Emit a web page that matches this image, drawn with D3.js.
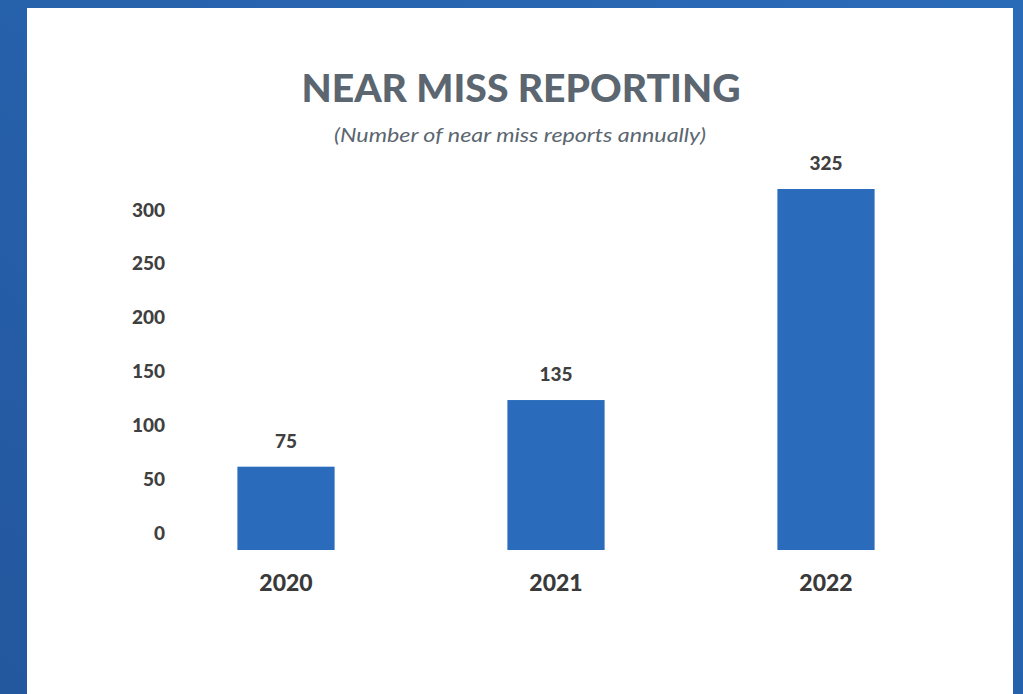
<!DOCTYPE html>
<html lang="en">
<head>
    <meta charset="UTF-8">
    <title>Near Miss Reporting</title>
    <script src="https://d3js.org/d3.v7.min.js"></script>
    <style>
        body { margin: 0; overflow: hidden; }
        text { font-family: Lato, "Open Sans", sans-serif; }
    </style>
</head>
<body>
    <svg id="chart" width="1023" height="694"></svg>

    <script>
        // Chart data
        const years = ["2020", "2021", "2022"];
        const reports = [75, 135, 325];
        const tickValues = [0, 50, 100, 150, 200, 250, 300];

        const width = 1023;
        const height = 694;

        const svg = d3.select("#chart");
        const defs = svg.append("defs");

        // blue backdrop
        const bg = defs.append("linearGradient")
            .attr("id", "bg")
            .attr("x1", "100%").attr("y1", "0%")
            .attr("x2", "0%").attr("y2", "100%");
        bg.append("stop").attr("offset", "0%").attr("stop-color", "#2a6bb8");
        bg.append("stop").attr("offset", "100%").attr("stop-color", "#23579e");

        svg.append("rect")
            .attr("width", width)
            .attr("height", height)
            .attr("fill", "url(#bg)");

        // white card
        svg.append("rect")
            .attr("x", 27)
            .attr("y", 8)
            .attr("width", 986)
            .attr("height", height)
            .attr("fill", "#ffffff");

        // title + subtitle
        svg.append("text")
            .attr("x", 521)
            .attr("y", 102)
            .attr("text-anchor", "middle")
            .attr("fill", "#5b6670")
            .attr("font-size", 37)
            .attr("font-weight", 900)
            .attr("textLength", 439)
            .attr("lengthAdjust", "spacingAndGlyphs")
            .text("NEAR MISS REPORTING");

        svg.append("text")
            .attr("x", 520)
            .attr("y", 142)
            .attr("text-anchor", "middle")
            .attr("fill", "#5b6670")
            .attr("font-size", 20)
            .attr("font-style", "italic")
            .attr("textLength", 372)
            .attr("lengthAdjust", "spacingAndGlyphs")
            .text("(Number of near miss reports annually)");

        // scales
        const x = d3.scaleBand()
            .domain(years)
            .range([151, 961])
            .paddingInner(0.64)
            .paddingOuter(0.32);

        const y = d3.scaleLinear()
            .domain([0, 325])
            .range([550, 189]);

        // tick labels sit a little above the bar baseline in the original
        const yAxisScale = d3.scaleLinear()
            .domain([0, 300])
            .range([533, 210]);

        const yAxis = d3.axisLeft(yAxisScale)
            .tickValues(tickValues)
            .tickSize(0)
            .tickPadding(0);

        svg.append("g")
            .attr("transform", "translate(165,0)")
            .call(yAxis)
            .call(g => g.select(".domain").remove())
            .call(g => g.selectAll("text")
                .attr("fill", "#404040")
                .attr("font-size", 19)
                .attr("font-weight", 900)
                .style("font-family", "Lato, 'Open Sans', sans-serif"));

        const xAxis = d3.axisBottom(x).tickSize(0).tickPadding(0);

        svg.append("g")
            .attr("transform", "translate(0,575)")
            .call(xAxis)
            .call(g => g.select(".domain").remove())
            .call(g => g.selectAll("text")
                .attr("fill", "#3a3a3a")
                .attr("font-size", 23)
                .attr("font-weight", 900)
                .style("font-family", "Lato, 'Open Sans', sans-serif"));

        // bars
        svg.selectAll(".bar")
            .data(reports)
            .enter().append("rect")
            .attr("class", "bar")
            .attr("x", (d, i) => x(years[i]))
            .attr("y", d => y(d))
            .attr("width", x.bandwidth())
            .attr("height", d => y(0) - y(d))
            .attr("fill", "#2a6cbb");

        // value labels
        svg.selectAll(".val")
            .data(reports)
            .enter().append("text")
            .attr("class", "val")
            .attr("x", (d, i) => x(years[i]) + x.bandwidth() / 2)
            .attr("y", d => y(d) - 19)
            .attr("text-anchor", "middle")
            .attr("fill", "#404040")
            .attr("font-size", 19)
            .attr("font-weight", 900)
            .text(d => d);
    </script>
</body>
</html>
